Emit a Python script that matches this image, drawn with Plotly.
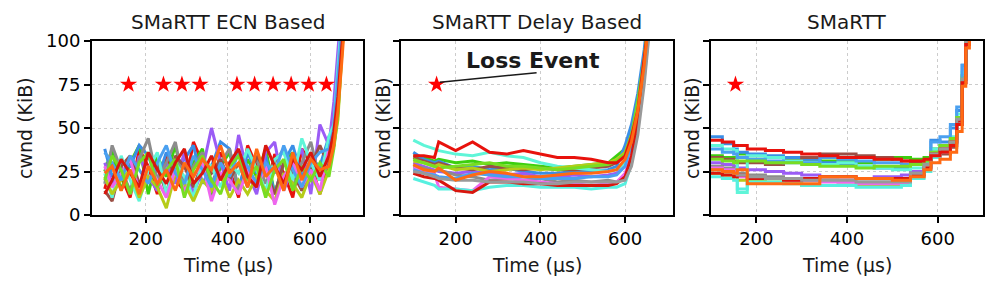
import plotly.graph_objects as go

# ---------------- data ----------------
colors = ['#e8120c', '#3ccf0f', '#3a8ee6', '#9b5cf5', '#8c8c8c', '#9b4f45',
          '#5ff5d8', '#b5cc18', '#ee66ee', '#ff6a13', '#56f0e0', '#4aa0f0',
          '#77dd22', '#d8160e', '#999999']

titles = ['SMaRTT ECN Based', 'SMaRTT Delay Based', 'SMaRTT']
y_ticks = [0, 25, 50, 75, 100]
x_ticks = [200, 400, 600]

# Panel 1: ECN based
x1 = [100, 118, 140, 162, 184, 206, 228, 250, 272, 294, 316, 338, 360, 382, 404,
      426, 448, 470, 492, 514, 536, 558, 580, 602, 624, 646, 658, 668, 678, 690]
ecn_red = [15, 30, 22, 10, 38, 28, 12, 35, 20, 14, 42, 30, 12, 36, 26, 10, 40, 28, 12, 35, 24, 10, 38, 30, 12, 30, 45, 62, 105, 140]
ecn_green = [25, 38, 14, 30, 40, 12, 34, 22, 40, 16, 30, 38, 10, 28, 36, 14, 32, 22, 38, 12, 30, 36, 14, 28, 20, 34, 40, 60, 110, 140]
ecn_blue = [38, 22, 30, 28, 40, 34, 20, 36, 26, 32, 40, 18, 28, 42, 38, 14, 36, 24, 34, 12, 30, 40, 22, 32, 28, 45, 46, 70, 120, 150]
ecn_purple = [30, 18, 28, 12, 34, 22, 14, 30, 18, 36, 12, 26, 50, 30, 14, 46, 24, 12, 36, 42, 14, 28, 38, 12, 52, 40, 65, 110, 130, 160]
ecn_gray = [18, 40, 26, 14, 32, 44, 20, 30, 42, 16, 28, 36, 18, 30, 38, 14, 26, 32, 18, 30, 38, 16, 30, 42, 20, 30, 50, 75, 105, 140]
ecn_brown = [14, 8, 28, 34, 18, 26, 30, 12, 34, 28, 16, 30, 24, 32, 20, 30, 16, 34, 26, 12, 30, 24, 14, 28, 40, 28, 45, 70, 100, 135]
ecn_cyan = [24, 10, 34, 20, 8, 26, 36, 12, 30, 22, 10, 32, 28, 16, 30, 24, 38, 26, 14, 32, 36, 20, 44, 30, 20, 45, 52, 85, 115, 150]
ecn_yellowgreen = [22, 12, 20, 26, 10, 22, 16, 4, 24, 18, 8, 20, 14, 24, 10, 20, 12, 22, 14, 8, 24, 18, 10, 24, 12, 26, 40, 55, 95, 130]
ecn_magenta = [28, 16, 24, 32, 14, 28, 20, 10, 26, 14, 22, 30, 8, 24, 20, 12, 26, 16, 28, 6, 22, 30, 16, 26, 14, 38, 44, 72, 105, 140]
ecn_lightblue = [36, 30, 20, 34, 26, 18, 30, 40, 24, 18, 34, 26, 16, 30, 22, 36, 28, 18, 30, 24, 40, 26, 16, 30, 36, 38, 50, 80, 110, 145]
ecn_lime = [20, 34, 26, 12, 30, 36, 16, 26, 32, 10, 26, 34, 20, 12, 28, 34, 20, 28, 10, 26, 32, 14, 28, 20, 30, 22, 38, 58, 95, 130]
ecn_red2 = [12, 20, 32, 24, 16, 36, 26, 18, 30, 38, 18, 24, 34, 20, 30, 38, 22, 16, 40, 28, 18, 32, 26, 36, 22, 34, 48, 68, 100, 135]
ecn_orange = [24, 28, 14, 26, 12, 28, 18, 26, 14, 30, 22, 32, 26, 40, 24, 30, 16, 38, 22, 28, 14, 36, 20, 32, 26, 28, 40, 60, 90, 130]
ecn_lines = [ecn_red, ecn_green, ecn_blue, ecn_purple, ecn_gray, ecn_brown, ecn_cyan,
             ecn_yellowgreen, ecn_magenta, ecn_lightblue, ecn_lime, ecn_red2, ecn_orange]
ecn_colors = [colors[i] for i in [0, 1, 2, 3, 4, 5, 6, 7, 8, 11, 12, 13, 9]]
ecn_loss_x = [158, 243, 288, 332, 422, 465, 510, 554, 597, 640]
ecn_loss_y = [75] * len(ecn_loss_x)

# Panel 2: Delay based
x2 = [100, 125, 150, 160, 200, 240, 280, 320, 360, 400, 440, 480, 520, 560, 580,
      600, 615, 630, 645, 655, 665]
del_green = [34, 33, 31, 32, 30, 31, 29, 30, 29, 28, 27, 28, 29, 30, 34, 38, 48, 64, 88, 110, 135]
del_blue = [36, 32, 30, 31, 27, 28, 26, 27, 25, 24, 24, 25, 25, 26, 28, 40, 52, 70, 95, 115, 140]
del_purple = [30, 28, 26, 25, 24, 25, 24, 23, 24, 22, 22, 23, 22, 23, 24, 30, 42, 58, 82, 102, 130]
del_gray = [28, 27, 25, 26, 23, 22, 20, 21, 20, 21, 19, 20, 19, 20, 19, 22, 30, 50, 80, 104, 128]
del_brown = [33, 31, 29, 30, 27, 26, 28, 27, 26, 27, 26, 26, 27, 28, 30, 34, 44, 60, 86, 108, 135]
del_cyan = [43, 40, 38, 37, 35, 34, 36, 34, 33, 30, 28, 27, 26, 25, 26, 30, 40, 58, 84, 106, 132]
del_yellowgreen = [31, 30, 28, 29, 26, 27, 25, 26, 27, 26, 27, 28, 29, 30, 32, 36, 46, 62, 88, 110, 135]
del_magenta = [27, 25, 24, 16, 15, 14, 22, 21, 20, 19, 18, 18, 17, 18, 19, 24, 34, 54, 82, 104, 130]
del_cyan2 = [21, 19, 17, 15, 15, 14, 16, 17, 17, 16, 16, 16, 15, 16, 16, 18, 30, 50, 78, 100, 126]
del_blue2 = [26, 24, 23, 22, 21, 24, 23, 22, 22, 21, 21, 21, 22, 22, 23, 28, 40, 58, 84, 106, 132]
del_green2 = [32, 30, 28, 27, 28, 29, 30, 28, 28, 27, 26, 27, 28, 29, 31, 35, 46, 66, 90, 112, 138]
del_red2 = [24, 22, 21, 20, 14, 13, 19, 19, 18, 18, 17, 17, 17, 17, 18, 22, 34, 54, 80, 102, 128]
del_gray2 = [25, 24, 22, 21, 20, 20, 19, 19, 19, 18, 18, 19, 19, 19, 19, 20, 28, 46, 75, 100, 126]
del_red = [34, 34, 33, 42, 37, 42, 36, 35, 37, 35, 33, 33, 32, 30, 30, 34, 45, 60, 85, 105, 130]
del_orange = [29, 26, 25, 27, 20, 23, 25, 24, 22, 22, 23, 24, 24, 25, 26, 32, 42, 60, 86, 108, 134]
del_lines = [del_green, del_blue, del_purple, del_gray, del_brown, del_cyan,
             del_yellowgreen, del_magenta, del_cyan2, del_blue2, del_green2,
             del_red2, del_gray2, del_red, del_orange]
del_colors = [colors[i] for i in [1, 2, 3, 4, 5, 6, 7, 8, 10, 11, 12, 13, 14, 0, 9]]
del_loss_x = [155]
del_loss_y = [75]

# Panel 3: SMaRTT
x3 = [100, 125, 150, 158, 180, 220, 260, 300, 340, 380, 420, 460, 500, 520, 540,
      570, 585, 605, 628, 642, 654, 662, 670]
sm_green = [34, 33, 33, 35, 34, 33, 32, 32, 31, 31, 30, 32, 33, 33, 32, 33, 38, 40, 44, 56, 80, 100, 130]
sm_blue = [45, 41, 38, 36, 35, 34, 33, 32, 30, 29, 28, 27, 27, 27, 30, 30, 43, 42, 50, 60, 86, 104, 132]
sm_purple = [30, 29, 28, 27, 26, 25, 24, 23, 22, 22, 21, 22, 22, 23, 25, 28, 35, 38, 42, 54, 78, 98, 128]
sm_gray = [28, 27, 26, 24, 23, 22, 21, 20, 20, 19, 19, 19, 19, 20, 24, 30, 36, 38, 43, 55, 80, 102, 130]
sm_brown = [33, 32, 31, 30, 30, 29, 31, 33, 35, 35, 34, 33, 32, 31, 30, 31, 33, 35, 39, 52, 76, 98, 126]
sm_cyan = [40, 38, 37, 13, 34, 33, 31, 30, 29, 30, 28, 27, 26, 26, 27, 30, 38, 40, 45, 58, 82, 104, 132]
sm_yellowgreen = [24, 23, 22, 20, 20, 19, 19, 17, 17, 17, 17, 17, 17, 18, 22, 28, 34, 37, 42, 55, 79, 100, 128]
sm_magenta = [27, 26, 25, 22, 21, 21, 20, 20, 19, 19, 18, 18, 18, 18, 22, 27, 33, 36, 41, 54, 78, 99, 127]
sm_cyan2 = [22, 21, 20, 15, 19, 19, 18, 17, 17, 17, 16, 16, 16, 17, 21, 25, 33, 36, 41, 54, 78, 100, 128]
sm_blue2 = [38, 36, 35, 33, 32, 31, 30, 30, 33, 32, 31, 30, 30, 29, 29, 31, 42, 45, 52, 62, 86, 106, 134]
sm_green2 = [32, 31, 30, 31, 31, 30, 30, 29, 28, 28, 27, 28, 28, 28, 29, 31, 36, 40, 44, 56, 78, 100, 128]
sm_red2 = [24, 23, 22, 23, 21, 21, 20, 21, 22, 22, 21, 21, 21, 21, 23, 27, 35, 38, 42, 54, 76, 98, 126]
sm_gray2 = [26, 25, 24, 23, 22, 21, 21, 20, 20, 20, 19, 19, 19, 19, 24, 29, 35, 38, 42, 55, 78, 100, 128]
sm_red = [43, 42, 40, 40, 38, 37, 36, 35, 34, 33, 33, 32, 32, 31, 31, 32, 34, 36, 40, 52, 76, 98, 126]
sm_orange = [26, 25, 24, 26, 18, 18, 18, 18, 22, 22, 21, 21, 20, 20, 22, 26, 30, 32, 36, 48, 74, 96, 124]
sm_lines = [sm_green, sm_blue, sm_purple, sm_gray, sm_brown, sm_cyan, sm_yellowgreen,
            sm_magenta, sm_cyan2, sm_blue2, sm_green2, sm_red2, sm_gray2, sm_red, sm_orange]
sm_colors = [colors[i] for i in [1, 2, 3, 4, 5, 6, 7, 8, 10, 11, 12, 13, 14, 0, 9]]
sm_loss_x = [154]
sm_loss_y = [75]

panels = [
    (x1, ecn_lines, ecn_colors, ecn_loss_x, ecn_loss_y, 'linear', [69, 729]),
    (x2, del_lines, del_colors, del_loss_x, del_loss_y, 'linear', [71, 713]),
    (x3, sm_lines, sm_colors, sm_loss_x, sm_loss_y, 'hv', [100, 700]),
]

# ---------------- figure ----------------
W, H = 997, 289
FONT = 'DejaVu Sans'
px_x = [(92, 363), (401, 673), (711, 983)]
y_top, y_bot = 41, 215

fig = go.Figure()
layout = dict(
    template='none',
    width=W, height=H, autosize=False,
    margin=dict(l=0, r=0, t=0, b=0, pad=0),
    paper_bgcolor='white', plot_bgcolor='white',
    showlegend=False,
    font=dict(family=FONT, size=18, color='black'),
)

annotations = []
for i, (xs, lines, cols, lx, ly, shape, xr) in enumerate(panels):
    k = '' if i == 0 else str(i + 1)
    for ys, c in zip(lines, cols):
        fig.add_trace(go.Scatter(
            x=xs, y=ys, mode='lines', line=dict(color=c, width=3, shape=shape),
            xaxis='x' + k, yaxis='y' + k, hoverinfo='skip'))
    fig.add_trace(go.Scatter(
        x=lx, y=ly, mode='markers',
        marker=dict(symbol='star', size=13, color='#ff0000', line=dict(width=0)),
        xaxis='x' + k, yaxis='y' + k, cliponaxis=False))

    x0, x1p = px_x[i]
    dom = [x0 / W, x1p / W]
    layout['xaxis' + k] = dict(
        domain=dom, range=xr, anchor='y' + k, automargin=False,
        tickvals=x_ticks, ticks='outside', ticklen=6, tickwidth=1.5, tickcolor='black',
        showline=True, linecolor='black', linewidth=2, mirror=True,
        showgrid=True, gridcolor='#cccccc', griddash='dot', gridwidth=1,
        zeroline=False, tickfont=dict(size=18, family=FONT))
    layout['yaxis' + k] = dict(
        domain=[1 - y_bot / H, 1 - y_top / H], range=[0, 100], anchor='x' + k,
        automargin=False,
        tickvals=y_ticks, ticks='outside', ticklen=6, tickwidth=1.5, tickcolor='black',
        showticklabels=(i == 0),
        showline=True, linecolor='black', linewidth=2, mirror=True,
        showgrid=True, gridcolor='#cccccc', griddash='dot', gridwidth=1,
        zeroline=False, tickfont=dict(size=18, family=FONT))

    cx = (x0 + x1p) / 2 / W
    annotations.append(dict(text=titles[i], x=cx, y=1 - 22.5 / H, xref='paper', yref='paper',
                            showarrow=False, xanchor='center', yanchor='middle',
                            font=dict(size=20, family=FONT, color='#1a1a1a')))
    annotations.append(dict(text='Time (µs)', x=cx, y=1 - 265 / H, xref='paper', yref='paper',
                            showarrow=False, xanchor='center', yanchor='middle',
                            font=dict(size=19, family=FONT, color='#1a1a1a')))

ylab_x = [25, 383, 692]
for xl in ylab_x:
    annotations.append(dict(text='cwnd (KiB)', x=xl / W, y=1 - 128 / H, xref='paper', yref='paper',
                            showarrow=False, xanchor='center', yanchor='middle', textangle=-90,
                            font=dict(size=19, family=FONT, color='#1a1a1a')))

annotations.append(dict(text='<b>Loss Event</b>', x=382, y=89, xref='x2', yref='y2',
                        showarrow=False, xanchor='center', yanchor='middle',
                        font=dict(size=22, family=FONT, color='#1a1a1a')))
layout['annotations'] = annotations
layout['shapes'] = [dict(type='line', xref='x2', yref='y2', x0=163, y0=76.3, x1=391, y1=81.8,
                         line=dict(color='#1a1a1a', width=1.5))]

fig.update_layout(**layout)
fig.write_html('out.html', config={'responsive': False, 'displayModeBar': False},
               post_script="document.body.style.margin='0';document.body.style.overflow='hidden';")
